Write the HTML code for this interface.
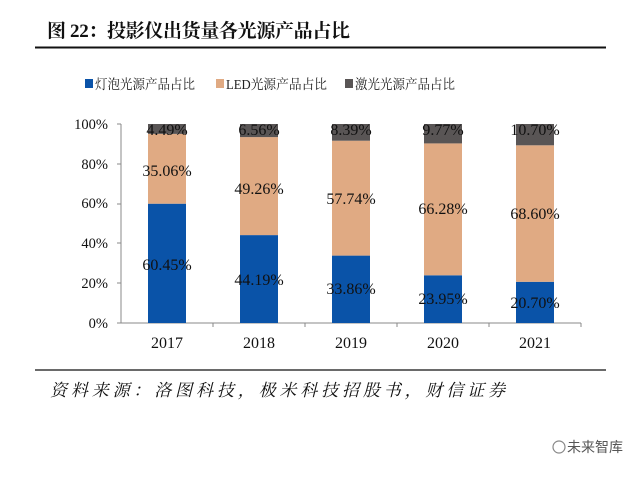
<!DOCTYPE html>
<html><head><meta charset="utf-8"><style>
body{margin:0;background:#fff;width:642px;height:475px;overflow:hidden;font-family:"Liberation Serif","Noto Serif CJK SC",serif;}
</style></head><body>
<svg width="642" height="475" xmlns="http://www.w3.org/2000/svg" font-family="Liberation Serif, Noto Serif CJK SC, serif">
<text x="47" y="37" font-size="19" font-weight="bold" fill="#111" textLength="303" lengthAdjust="spacing">图 22：投影仪出货量各光源产品占比</text>
<line x1="35" y1="47.5" x2="606" y2="47.5" stroke="#111" stroke-width="2"/>
<g font-size="13.5" fill="#222">
<rect x="85" y="79" width="8" height="9" fill="#0a53a8"/><text x="95" y="89" textLength="100" lengthAdjust="spacingAndGlyphs">灯泡光源产品占比</text>
<rect x="216" y="79" width="8" height="9" fill="#e0aa83"/><text x="226" y="89" textLength="101" lengthAdjust="spacingAndGlyphs">LED光源产品占比</text>
<rect x="345" y="79" width="8" height="9" fill="#595555"/><text x="355" y="89" textLength="100" lengthAdjust="spacingAndGlyphs">激光光源产品占比</text>
</g>
<g font-size="14.5" fill="#111" text-anchor="end">
<text x="108" y="129">100%</text><text x="108" y="169">80%</text><text x="108" y="208">60%</text>
<text x="108" y="248">40%</text><text x="108" y="288">20%</text><text x="108" y="328">0%</text>
</g>
<g stroke="#888" stroke-width="1">
<line x1="121" y1="124" x2="121" y2="323"/>
<line x1="117" y1="124" x2="121" y2="124"/><line x1="117" y1="164" x2="121" y2="164"/><line x1="117" y1="204" x2="121" y2="204"/><line x1="117" y1="243" x2="121" y2="243"/><line x1="117" y1="283" x2="121" y2="283"/>
<line x1="117" y1="323" x2="581" y2="323"/>
<line x1="213" y1="323" x2="213" y2="327"/><line x1="305" y1="323" x2="305" y2="327"/><line x1="397" y1="323" x2="397" y2="327"/><line x1="489" y1="323" x2="489" y2="327"/><line x1="581" y1="323" x2="581" y2="327"/>
</g>
<g>
<rect x="148" y="203.7" width="38" height="119.3" fill="#0a53a8"/>
<rect x="148" y="133.9" width="38" height="69.8" fill="#e0aa83"/>
<rect x="148" y="124" width="38" height="9.9" fill="#595555"/>
<rect x="240" y="235.1" width="38" height="87.9" fill="#0a53a8"/>
<rect x="240" y="137.1" width="38" height="98" fill="#e0aa83"/>
<rect x="240" y="124" width="38" height="13.1" fill="#595555"/>
<rect x="332" y="255.6" width="38" height="67.4" fill="#0a53a8"/>
<rect x="332" y="140.7" width="38" height="114.9" fill="#e0aa83"/>
<rect x="332" y="124" width="38" height="16.7" fill="#595555"/>
<rect x="424" y="275.3" width="38" height="47.7" fill="#0a53a8"/>
<rect x="424" y="143.4" width="38" height="131.9" fill="#e0aa83"/>
<rect x="424" y="124" width="38" height="19.4" fill="#595555"/>
<rect x="516" y="281.8" width="38" height="41.2" fill="#0a53a8"/>
<rect x="516" y="145.3" width="38" height="136.5" fill="#e0aa83"/>
<rect x="516" y="124" width="38" height="21.3" fill="#595555"/>
</g>
<g font-size="16" fill="#111" text-anchor="middle">
<text x="167" y="135">4.49%</text><text x="167" y="176">35.06%</text><text x="167" y="270">60.45%</text>
<text x="259" y="135">6.56%</text><text x="259" y="194">49.26%</text><text x="259" y="285">44.19%</text>
<text x="351" y="135">8.39%</text><text x="351" y="204">57.74%</text><text x="351" y="294">33.86%</text>
<text x="443" y="135">9.77%</text><text x="443" y="214">66.28%</text><text x="443" y="304">23.95%</text>
<text x="535" y="135">10.70%</text><text x="535" y="219">68.60%</text><text x="535" y="308">20.70%</text>
</g>
<g font-size="16" fill="#111" text-anchor="middle">
<text x="167" y="348">2017</text><text x="259" y="348">2018</text><text x="351" y="348">2019</text><text x="443" y="348">2020</text><text x="535" y="348">2021</text>
</g>
<line x1="35" y1="370" x2="606" y2="370" stroke="#111" stroke-width="1.2"/>
<text x="50" y="396" font-size="17" font-style="italic" fill="#111" textLength="455">资料来源：洛图科技，极米科技招股书，财信证券</text>
<circle cx="559" cy="447" r="6" fill="none" stroke="#888" stroke-width="1.2"/>
<text x="567" y="452" font-size="14" fill="#555" font-family="Liberation Sans, Noto Sans CJK SC, sans-serif">未来智库</text>
</svg>
</body></html>
